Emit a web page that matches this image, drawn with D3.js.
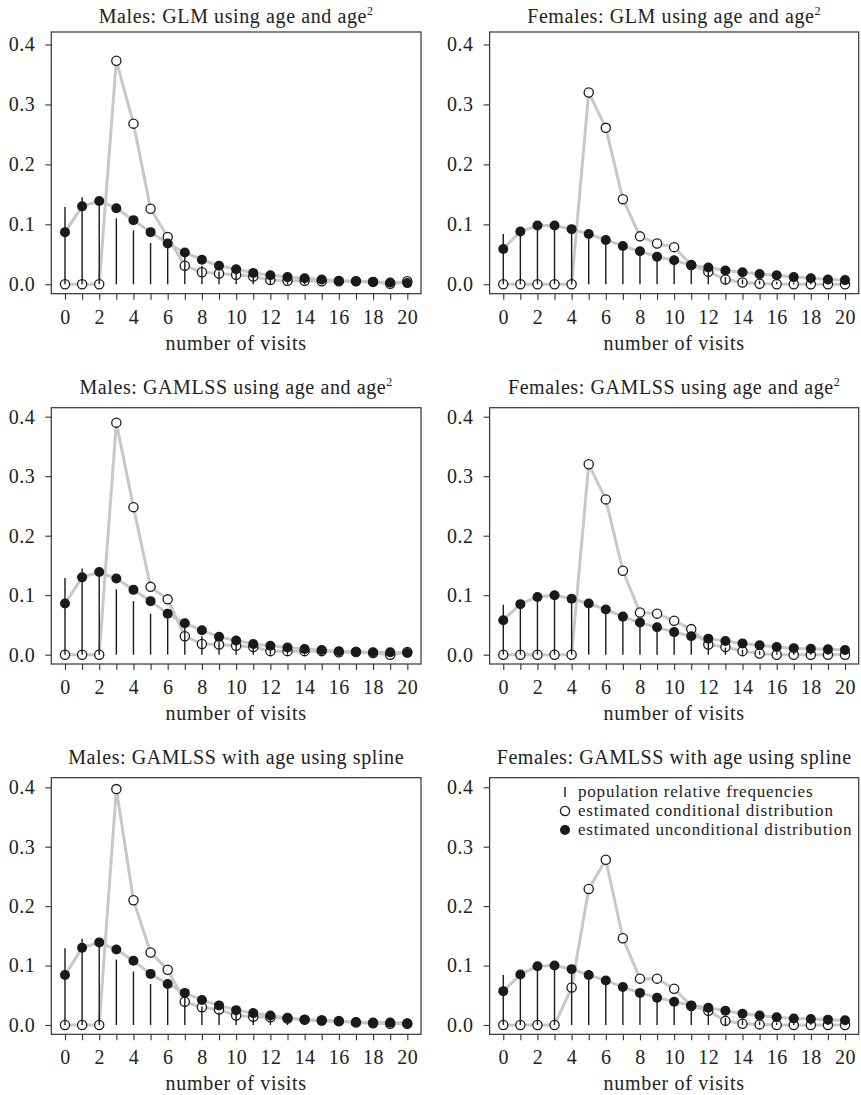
<!DOCTYPE html>
<html>
<head>
<meta charset="utf-8">
<script src="https://cdn.jsdelivr.net/npm/d3@7"></script>
<style>
  body { margin: 0; background: #fff; }
  svg { display: block; }
</style>
</head>
<body>
<svg id="chart" width="861" height="1095"></svg>
<script>
// number of visits on the x axis
var visits = d3.range(0, 21);
var xTickLabels = [0, 2, 4, 6, 8, 10, 12, 14, 16, 18, 20];
var yTickValues = [0, 0.1, 0.2, 0.3, 0.4];

// population relative frequencies (vertical bars), same in every row
var malePop = [0.129, 0.145, 0.140, 0.110, 0.090, 0.069, 0.061, 0.048, 0.031, 0.021, 0.018, 0.013, 0.009, 0.007, 0.006, 0.005, 0.004, 0.004, 0.003, 0.003, 0.003];
var femalePop = [0.084, 0.088, 0.097, 0.098, 0.092, 0.084, 0.073, 0.060, 0.052, 0.044, 0.038, 0.032, 0.023, 0.012, 0.008, 0.006, 0.004, 0.003, 0.003, 0.002, 0.002];

// estimated conditional (open) and unconditional (filled) distributions
var maleGlmCond = [0, 0, 0, 0.373, 0.268, 0.126, 0.079, 0.031, 0.020, 0.018, 0.016, 0.013, 0.007, 0.006, 0.006, 0.005, 0.005, 0.005, 0.004, 0.001, 0.005];
var maleGlmUncond = [0.087, 0.130, 0.139, 0.127, 0.107, 0.087, 0.068, 0.053, 0.041, 0.031, 0.025, 0.019, 0.015, 0.012, 0.010, 0.008, 0.006, 0.005, 0.004, 0.003, 0.002];
var femaleGlmCond = [0, 0, 0, 0, 0, 0.320, 0.261, 0.142, 0.080, 0.068, 0.062, 0.032, 0.021, 0.008, 0.003, 0.001, 0, 0, 0, 0, 0];
var femaleGlmUncond = [0.059, 0.088, 0.098, 0.098, 0.092, 0.084, 0.074, 0.064, 0.055, 0.046, 0.040, 0.032, 0.028, 0.023, 0.020, 0.017, 0.015, 0.012, 0.010, 0.008, 0.007];

var maleGamCond = [0, 0, 0, 0.390, 0.248, 0.114, 0.093, 0.031, 0.018, 0.017, 0.015, 0.013, 0.006, 0.006, 0.006, 0.006, 0.004, 0.0045, 0.003, 0, 0.0045];
var maleGamUncond = [0.086, 0.130, 0.139, 0.128, 0.109, 0.090, 0.069, 0.053, 0.041, 0.030, 0.024, 0.018, 0.015, 0.012, 0.0095, 0.008, 0.006, 0.005, 0.004, 0.004, 0.003];
var femaleGamCond = [0, 0, 0, 0, 0, 0.320, 0.261, 0.141, 0.071, 0.069, 0.057, 0.043, 0.017, 0.013, 0.006, 0.002, 0, 0, 0, 0, 0];
var femaleGamUncond = [0.058, 0.085, 0.097, 0.100, 0.094, 0.086, 0.076, 0.064, 0.054, 0.046, 0.038, 0.031, 0.027, 0.023, 0.019, 0.016, 0.013, 0.011, 0.010, 0.009, 0.008];

var maleSplCond = [0, 0, 0, 0.397, 0.210, 0.122, 0.093, 0.039, 0.030, 0.026, 0.016, 0.014, 0.013, 0.011, 0.009, 0.008, 0.0067, 0.004, 0.003, 0.002, 0.002];
var maleSplUncond = [0.084, 0.130, 0.139, 0.127, 0.108, 0.086, 0.069, 0.054, 0.042, 0.033, 0.025, 0.020, 0.016, 0.012, 0.009, 0.007, 0.006, 0.005, 0.004, 0.004, 0.003];
var femaleSplCond = [0, 0, 0, 0, 0.063, 0.229, 0.278, 0.146, 0.078, 0.078, 0.061, 0.032, 0.024, 0.007, 0.002, 0.001, 0, 0, 0, 0, 0];
var femaleSplUncond = [0.057, 0.085, 0.099, 0.100, 0.094, 0.084, 0.075, 0.064, 0.054, 0.046, 0.039, 0.033, 0.029, 0.024, 0.019, 0.016, 0.013, 0.011, 0.010, 0.009, 0.008];

var titles = [
  ["Males: GLM using age and age", "2"],
  ["Females: GLM using age and age", "2"],
  ["Males: GAMLSS using age and age", "2"],
  ["Females: GAMLSS using age and age", "2"],
  ["Males: GAMLSS with age using spline", ""],
  ["Females: GAMLSS with age using spline", ""]
];
var legendLabels = ["population relative frequencies", "estimated conditional distribution", "estimated unconditional distribution"];

// panel layout (pixels)
var cols = [{ left: 51.3, right: 421 }, { left: 489.6, right: 858.7 }];
var rows = [
  { top: 32, bottom: 293.7, y0: 284.3, y4: 44.5, title: 23 },
  { top: 407.7, bottom: 664, y0: 654.7, y4: 416.7, title: 394 },
  { top: 777.7, bottom: 1034.3, y0: 1025, y4: 787.3, title: 764 }
];

var panels = [
  { row: 0, col: 0, pop: malePop, cond: maleGlmCond, uncond: maleGlmUncond },
  { row: 0, col: 1, pop: femalePop, cond: femaleGlmCond, uncond: femaleGlmUncond },
  { row: 1, col: 0, pop: malePop, cond: maleGamCond, uncond: maleGamUncond },
  { row: 1, col: 1, pop: femalePop, cond: femaleGamCond, uncond: femaleGamUncond },
  { row: 2, col: 0, pop: malePop, cond: maleSplCond, uncond: maleSplUncond },
  { row: 2, col: 1, pop: femalePop, cond: femaleSplCond, uncond: femaleSplUncond }
];

var svg = d3.select("#chart");
var serif = "'Times New Roman', Times, 'Liberation Serif', 'Nimbus Roman', 'Noto Serif', FreeSerif, 'DejaVu Serif', Georgia, serif";
var lineGrey = "#c8c8c8";

// draw one panel of the 3x2 grid
function drawPanel(p, i) {
  var c = cols[p.col], r = rows[p.row];
  var x = d3.scaleLinear().domain([-0.8, 20.8]).range([c.left, c.right]);
  var y = d3.scaleLinear().domain([0, 0.4]).range([r.y0, r.y4]);
  var g = svg.append("g").style("font-family", serif).attr("fill", "#222");

  // x axis: tick at every count, label on even ones
  g.append("g")
    .attr("transform", "translate(0," + r.bottom + ")")
    .call(d3.axisBottom(x).tickValues(visits).tickSize(6).tickPadding(10)
      .tickFormat(function (d) { return xTickLabels.indexOf(d) >= 0 ? d : ""; }))
    .call(styleAxis);

  g.append("g")
    .attr("transform", "translate(" + c.left + ",0)")
    .call(d3.axisLeft(y).tickValues(yTickValues).tickSize(6).tickPadding(10)
      .tickFormat(d3.format(".1f")))
    .call(styleAxis);

  var line = d3.line()
    .x(function (d, k) { return x(visits[k]); })
    .y(function (d) { return y(d); });

  g.append("path").datum(p.uncond)
    .attr("d", line).attr("fill", "none")
    .attr("stroke", lineGrey).attr("stroke-width", 3).attr("stroke-linejoin", "round");
  g.append("path").datum(p.cond)
    .attr("d", line).attr("fill", "none")
    .attr("stroke", lineGrey).attr("stroke-width", 3).attr("stroke-linejoin", "round");

  // white gaps in the line under the open points
  g.selectAll(".gap").data(p.cond).enter().append("circle")
    .attr("cx", function (d, k) { return x(visits[k]); })
    .attr("cy", function (d) { return y(d); })
    .attr("r", 4.6).attr("fill", "#fff");

  g.selectAll(".filled").data(p.uncond).enter().append("circle")
    .attr("cx", function (d, k) { return x(visits[k]); })
    .attr("cy", function (d) { return y(d); })
    .attr("r", 5).attr("fill", "#1a1a1a");

  g.selectAll(".open").data(p.cond).enter().append("circle")
    .attr("cx", function (d, k) { return x(visits[k]); })
    .attr("cy", function (d) { return y(d); })
    .attr("r", 4.6).attr("fill", "none")
    .attr("stroke", "#1a1a1a").attr("stroke-width", 1.3);

  // population bars on top
  g.selectAll(".bar").data(p.pop).enter().append("line")
    .attr("x1", function (d, k) { return x(visits[k]); })
    .attr("x2", function (d, k) { return x(visits[k]); })
    .attr("y1", y(0))
    .attr("y2", function (d) { return y(d); })
    .attr("stroke", "#1a1a1a").attr("stroke-width", 1.4);

  // frame
  g.append("rect")
    .attr("x", c.left).attr("y", r.top)
    .attr("width", c.right - c.left).attr("height", r.bottom - r.top)
    .attr("fill", "none").attr("stroke", "#333").attr("stroke-width", 1.2);

  var title = g.append("text")
    .attr("x", (c.left + c.right) / 2).attr("y", r.title)
    .attr("text-anchor", "middle")
    .style("font-family", serif)
    .style("font-size", "20px").style("letter-spacing", "0.6px")
    .text(titles[i][0]);
  if (titles[i][1]) {
    title.append("tspan").attr("dy", -8).style("font-size", "12px").text(titles[i][1]);
  }

  g.append("text")
    .attr("x", (c.left + c.right) / 2).attr("y", r.bottom + 56)
    .attr("text-anchor", "middle")
    .style("font-family", serif)
    .style("font-size", "20px").style("letter-spacing", "0.7px")
    .text("number of visits");

  return { x: x, y: y, g: g, c: c, r: r };
}

function styleAxis(sel) {
  sel.attr("font-family", null).attr("font-size", null);
  sel.select(".domain").remove();
  sel.selectAll(".tick line").attr("stroke", "#333").attr("stroke-width", 1.1);
  sel.selectAll(".tick text")
    .style("font-family", serif)
    .style("font-size", "20px").style("letter-spacing", "0.5px")
    .attr("fill", "#222");
}

var drawn = panels.map(drawPanel);

// legend in the last panel
var last = drawn[5];
var lg = last.g.append("g").attr("transform", "translate(565,792)");
var rowGap = 19;
lg.append("line").attr("x1", 0).attr("x2", 0).attr("y1", -5).attr("y2", 5)
  .attr("stroke", "#1a1a1a").attr("stroke-width", 1.4);
lg.append("circle").attr("cx", 0).attr("cy", rowGap).attr("r", 4.6)
  .attr("fill", "#fff").attr("stroke", "#1a1a1a").attr("stroke-width", 1.3);
lg.append("circle").attr("cx", 0).attr("cy", rowGap * 2).attr("r", 5).attr("fill", "#1a1a1a");
lg.selectAll(".lab").data(legendLabels).enter().append("text")
  .attr("x", 13)
  .attr("y", function (d, k) { return k * rowGap + 5; })
  .style("font-family", serif)
  .style("font-size", "17px").style("letter-spacing", "0.8px")
  .text(function (d) { return d; });
</script>
</body>
</html>
